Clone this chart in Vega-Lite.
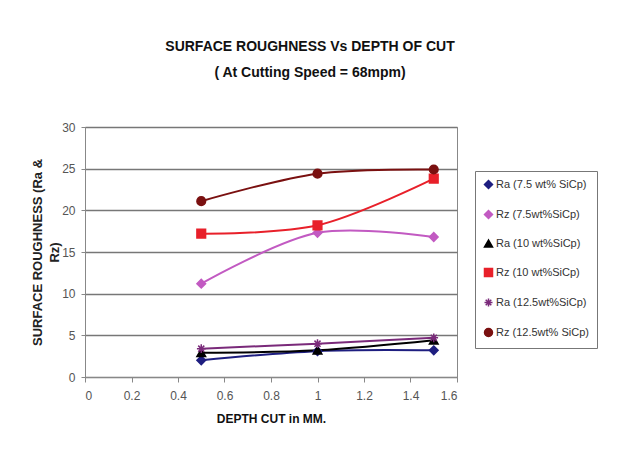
{
  "$schema": "https://vega.github.io/schema/vega-lite/v6.json",
  "width": 372,
  "height": 250,
  "padding": {"left": 31, "top": 40, "right": 5, "bottom": 5},
  "title": {
    "text": ["SURFACE ROUGHNESS Vs DEPTH OF CUT", "( At  Cutting Speed = 68mpm)"],
    "font": "Liberation Sans",
    "fontSize": 14,
    "fontWeight": "bold",
    "color": "#111111",
    "lineHeight": 26,
    "anchor": "middle",
    "frame": "group",
    "dx": 39,
    "offset": 41
  },
  "data": {
    "values": [
      {"series": "Ra (7.5 wt% SiCp)", "depth": 0.5, "r": 2.0},
      {"series": "Ra (7.5 wt% SiCp)", "depth": 1.0, "r": 3.1},
      {"series": "Ra (7.5 wt% SiCp)", "depth": 1.5, "r": 3.2},
      {"series": "Rz (7.5wt%SiCp)", "depth": 0.5, "r": 11.2},
      {"series": "Rz (7.5wt%SiCp)", "depth": 1.0, "r": 17.3},
      {"series": "Rz (7.5wt%SiCp)", "depth": 1.5, "r": 16.8},
      {"series": "Ra (10 wt%SiCp)", "depth": 0.5, "r": 2.9},
      {"series": "Ra (10 wt%SiCp)", "depth": 1.0, "r": 3.2},
      {"series": "Ra (10 wt%SiCp)", "depth": 1.5, "r": 4.4},
      {"series": "Rz (10 wt%SiCp)", "depth": 0.5, "r": 17.2},
      {"series": "Rz (10 wt%SiCp)", "depth": 1.0, "r": 18.2},
      {"series": "Rz (10 wt%SiCp)", "depth": 1.5, "r": 23.8},
      {"series": "Ra (12.5wt%SiCp)", "depth": 0.5, "r": 3.4},
      {"series": "Ra (12.5wt%SiCp)", "depth": 1.0, "r": 4.0},
      {"series": "Ra (12.5wt%SiCp)", "depth": 1.5, "r": 4.7},
      {"series": "Rz (12.5wt% SiCp)", "depth": 0.5, "r": 21.1},
      {"series": "Rz (12.5wt% SiCp)", "depth": 1.0, "r": 24.4},
      {"series": "Rz (12.5wt% SiCp)", "depth": 1.5, "r": 24.9}
    ]
  },
  "encoding": {
    "x": {
      "field": "depth", "type": "quantitative",
      "scale": {"domain": [0, 1.6], "nice": false},
      "axis": {
        "title": "DEPTH CUT in MM.",
        "values": [0, 0.2, 0.4, 0.6, 0.8, 1, 1.2, 1.4, 1.6],
        "format": "~g",
        "grid": false,
        "domainColor": "#888888",
        "tickColor": "#888888",
        "tickSize": 5,
        "labelFont": "Liberation Sans",
        "labelFontSize": 12,
        "labelColor": "#555555",
        "labelPadding": 8,
        "titleFont": "Liberation Sans",
        "titleFontSize": 12,
        "titleFontWeight": "bold",
        "titleColor": "#111111",
        "titlePadding": 12
      }
    },
    "y": {
      "field": "r", "type": "quantitative",
      "scale": {"domain": [0, 30], "nice": false},
      "axis": {
        "title": ["SURFACE ROUGHNESS (Ra &", "Rz)"],
        "values": [0, 5, 10, 15, 20, 25, 30],
        "grid": true,
        "gridColor": "#777777",
        "gridWidth": 1.3,
        "domainColor": "#888888",
        "tickColor": "#888888",
        "tickSize": 4,
        "labelFont": "Liberation Sans",
        "labelFontSize": 12,
        "labelColor": "#555555",
        "labelPadding": 6,
        "titleFont": "Liberation Sans",
        "titleFontSize": 13,
        "titleFontWeight": "bold",
        "titleColor": "#222222",
        "titleLineHeight": 17,
        "titlePadding": 0
      }
    },
    "color": {
      "field": "series", "type": "nominal",
      "scale": {
        "domain": ["Ra (7.5 wt% SiCp)", "Rz (7.5wt%SiCp)", "Ra (10 wt%SiCp)", "Rz (10 wt%SiCp)", "Ra (12.5wt%SiCp)", "Rz (12.5wt% SiCp)"],
        "range": ["#1e1e80", "#c25ac2", "#000000", "#e8202a", "#7a2a7a", "#7a1010"]
      },
      "legend": {
        "title": null,
        "orient": "none",
        "legendX": 390,
        "legendY": 44,
        "strokeColor": "#777777",
        "padding": 8,
        "rowPadding": 15,
        "labelFont": "Liberation Sans",
        "labelFontSize": 11,
        "labelColor": "#333333",
        "labelOffset": 2,
        "symbolSize": 64,
        "symbolStrokeWidth": 1.5
      }
    }
  },
  "layer": [
    {
      "mark": {"type": "line", "interpolate": "catmull-rom", "strokeWidth": 2}
    },
    {
      "mark": {"type": "point", "filled": true, "size": 75, "strokeWidth": 1.5, "opacity": 1},
      "encoding": {
        "shape": {
          "field": "series", "type": "nominal",
          "scale": {
            "domain": ["Ra (7.5 wt% SiCp)", "Rz (7.5wt%SiCp)", "Ra (10 wt%SiCp)", "Rz (10 wt%SiCp)", "Ra (12.5wt%SiCp)", "Rz (12.5wt% SiCp)"],
            "range": ["diamond", "diamond", "triangle-up", "square", "M-1,0L1,0M0,-1L0,1M-0.7,-0.7L0.7,0.7M-0.7,0.7L0.7,-0.7", "circle"]
          },
          "legend": null
        },
        "stroke": {
          "field": "series", "type": "nominal",
          "scale": {
            "domain": ["Ra (7.5 wt% SiCp)", "Rz (7.5wt%SiCp)", "Ra (10 wt%SiCp)", "Rz (10 wt%SiCp)", "Ra (12.5wt%SiCp)", "Rz (12.5wt% SiCp)"],
            "range": ["#1e1e80", "#c25ac2", "#000000", "#e8202a", "#7a2a7a", "#7a1010"]
          },
          "legend": null
        }
      }
    }
  ],
  "config": {
    "view": {"stroke": "#888888", "strokeWidth": 1},
    "background": "white"
  }
}
